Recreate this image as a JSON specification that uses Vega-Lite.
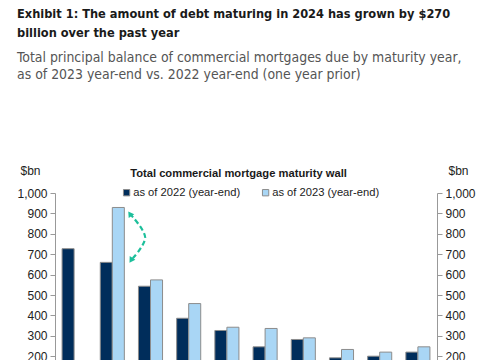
{
  "$schema": "https://vega.github.io/schema/vega-lite/v6.json",
  "width": 382,
  "height": 204,
  "autosize": {"type": "none"},
  "padding": {"top": 193, "left": 55, "right": 48, "bottom": 10},
  "background": "white",
  "config": {"view": {"stroke": null}, "font": "Liberation Sans"},
  "title": {
    "text": ["Exhibit 1: The amount of debt maturing in 2024 has grown by $270", "billion over the past year"],
    "subtitle": ["Total principal balance of commercial mortgages due by maturity year,", "as of 2023 year-end vs. 2022 year-end (one year prior)"],
    "anchor": "start",
    "frame": "group",
    "dx": -38,
    "offset": 82,
    "font": "Liberation Sans Narrow, Arial Narrow, DejaVu Sans Condensed, sans-serif",
    "fontSize": 12.7,
    "fontWeight": "bold",
    "color": "#1a1a1a",
    "lineHeight": 19,
    "subtitleFont": "Liberation Sans Narrow, Arial Narrow, DejaVu Sans Condensed, sans-serif",
    "subtitleFontSize": 13.9,
    "subtitleColor": "#555555",
    "subtitleLineHeight": 17,
    "subtitlePadding": 11
  },
  "layer": [
    {
      "data": {"values": [
        {"year": "2023", "series": "as of 2022 (year-end)", "value": 727},
        {"year": "2024", "series": "as of 2022 (year-end)", "value": 660},
        {"year": "2024", "series": "as of 2023 (year-end)", "value": 929},
        {"year": "2025", "series": "as of 2022 (year-end)", "value": 543},
        {"year": "2025", "series": "as of 2023 (year-end)", "value": 574},
        {"year": "2026", "series": "as of 2022 (year-end)", "value": 386},
        {"year": "2026", "series": "as of 2023 (year-end)", "value": 458},
        {"year": "2027", "series": "as of 2022 (year-end)", "value": 326},
        {"year": "2027", "series": "as of 2023 (year-end)", "value": 342},
        {"year": "2028", "series": "as of 2022 (year-end)", "value": 246},
        {"year": "2028", "series": "as of 2023 (year-end)", "value": 336},
        {"year": "2029", "series": "as of 2022 (year-end)", "value": 282},
        {"year": "2029", "series": "as of 2023 (year-end)", "value": 290},
        {"year": "2030", "series": "as of 2022 (year-end)", "value": 192},
        {"year": "2030", "series": "as of 2023 (year-end)", "value": 233},
        {"year": "2031", "series": "as of 2022 (year-end)", "value": 200},
        {"year": "2031", "series": "as of 2023 (year-end)", "value": 220},
        {"year": "2032", "series": "as of 2022 (year-end)", "value": 220},
        {"year": "2032", "series": "as of 2023 (year-end)", "value": 246}
      ]},
      "layer": [
        {
          "mark": {"type": "bar", "stroke": "#8c8c8c", "strokeWidth": 1},
          "encoding": {
            "x": {
              "field": "year", "type": "ordinal",
              "scale": {"paddingInner": 0.37, "paddingOuter": 0.185},
              "axis": {"title": null, "labelAngle": 0, "ticks": false, "domainColor": "#999999", "labelFontSize": 12, "labelColor": "#222222"}
            },
            "xOffset": {"field": "series", "type": "nominal", "sort": ["as of 2022 (year-end)", "as of 2023 (year-end)"], "scale": {"domain": ["as of 2022 (year-end)", "as of 2023 (year-end)"]}},
            "y": {
              "field": "value", "type": "quantitative",
              "scale": {"domain": [0, 1000], "nice": false},
              "axis": {
                "values": [0, 100, 200, 300, 400, 500, 600, 700, 800, 900, 1000],
                "format": ",d", "grid": false,
                "labelFontSize": 12, "labelColor": "#222222", "labelPadding": 3,
                "tickColor": "#999999", "tickSize": 5, "domainColor": "#999999",
                "title": "$bn", "titleAngle": 0, "titleX": -35, "titleY": -23,
                "titleAlign": "left", "titleBaseline": "middle",
                "titleFontWeight": "normal", "titleFontSize": 12, "titleColor": "#222222"
              }
            },
            "color": {
              "field": "series", "type": "nominal",
              "scale": {"domain": ["as of 2022 (year-end)", "as of 2023 (year-end)"], "range": ["#002d5b", "#a9d6f5"]},
              "legend": {
                "title": null, "orient": "none", "legendX": 66, "legendY": -6,
                "direction": "horizontal", "symbolType": "square", "symbolSize": 40,
                "symbolStrokeColor": "#8c8c8c", "symbolStrokeWidth": 1,
                "labelFontSize": 11.2, "labelColor": "#222222", "labelOffset": 1,
                "columnPadding": 19, "labelLimit": 200
              }
            }
          }
        }
      ]
    },
    {
      "data": {"values": [{"value": 0}, {"value": 1000}]},
      "mark": {"type": "rule", "strokeOpacity": 0},
      "encoding": {
        "y": {
          "field": "value", "type": "quantitative",
          "scale": {"domain": [0, 1000], "nice": false},
          "axis": {
            "orient": "right",
            "values": [0, 100, 200, 300, 400, 500, 600, 700, 800, 900, 1000],
            "format": ",d", "grid": false,
            "labelFontSize": 12, "labelColor": "#222222", "labelPadding": 3,
            "tickColor": "#999999", "tickSize": 5, "domainColor": "#999999",
            "title": "$bn", "titleAngle": 0, "titleX": 11, "titleY": -23,
            "titleAlign": "left", "titleBaseline": "middle",
            "titleFontWeight": "normal", "titleFontSize": 12, "titleColor": "#222222"
          }
        }
      }
    },
    {
      "data": {"values": [
        {"pos": 1.96, "v": 898, "o": 1},
        {"pos": 2.36, "v": 782, "o": 2},
        {"pos": 1.99, "v": 670, "o": 3}
      ]},
      "layer": [
        {
          "mark": {"type": "line", "interpolate": "cardinal", "stroke": "#1dbf9b", "strokeWidth": 2.2, "strokeDash": [5, 3]},
          "encoding": {
            "x": {
              "field": "pos", "type": "quantitative",
              "scale": {"domain": [0, 10], "nice": false, "zero": false},
              "axis": {
                "orient": "top", "labels": false, "ticks": false, "domain": false, "grid": false,
                "title": "Total commercial mortgage maturity wall",
                "titleX": 183, "titleY": -20, "titleAlign": "center", "titleBaseline": "middle",
                "titleFontSize": 11.2, "titleFontWeight": "bold", "titleColor": "#1a1a1a"
              }
            },
            "y": {"field": "v", "type": "quantitative", "scale": {"domain": [0, 1000], "nice": false}, "axis": null},
            "order": {"field": "o", "type": "quantitative"}
          }
        },
        {
          "transform": [{"filter": "datum.o == 1"}],
          "mark": {"type": "point", "shape": "triangle-up", "filled": true, "fill": "#1dbf9b", "size": 45, "angle": 326, "opacity": 1},
          "encoding": {
            "x": {"field": "pos", "type": "quantitative"},
            "y": {"field": "v", "type": "quantitative"}
          }
        },
        {
          "transform": [{"filter": "datum.o == 3"}],
          "mark": {"type": "point", "shape": "triangle-up", "filled": true, "fill": "#1dbf9b", "size": 45, "angle": 212, "opacity": 1},
          "encoding": {
            "x": {"field": "pos", "type": "quantitative"},
            "y": {"field": "v", "type": "quantitative"}
          }
        }
      ]
    }
  ],
  "resolve": {"scale": {"x": "independent", "y": "independent"}}
}
